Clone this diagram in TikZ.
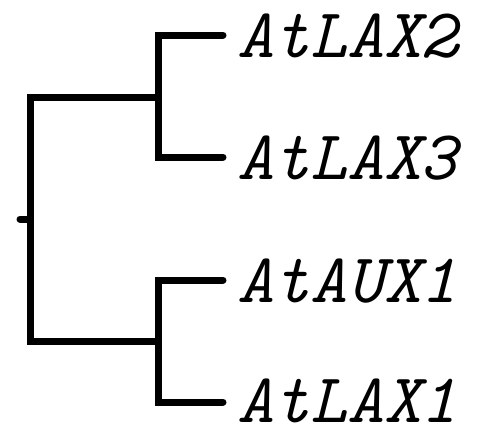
\documentclass[tikz,border=0pt]{standalone}
\begin{document}
\begin{tikzpicture}[x=1pt,y=-1pt,
  branch/.style={line width=7pt, line cap=round, line join=miter},
  leaf/.style={font=\fontsize{70}{70}\selectfont\ttfamily\itshape, anchor=base west, inner sep=0pt}]
\useasboundingbox (0,0) rectangle (477,429);
\coordinate (stub) at (20,219);
\coordinate (r) at (30,219);
\coordinate (u) at (158,97);
\coordinate (l) at (158,341);
\coordinate (t1) at (223,35);
\coordinate (t2) at (223,157);
\coordinate (t3) at (223,280);
\coordinate (t4) at (223,402);
\node[leaf] (n1) at (237,57) {AtLAX2};
\node[leaf] (n2) at (237,179) {AtLAX3};
\node[leaf] (n3) at (237,302) {AtAUX1};
\node[leaf] (n4) at (237,422) {AtLAX1};
\draw[branch] (stub) -- (r);
\draw[branch] (u) -| (r) |- (l);
\draw[branch] (t1) -| (u) |- (t2);
\draw[branch] (t3) -| (l) |- (t4);
\end{tikzpicture}
\end{document}
